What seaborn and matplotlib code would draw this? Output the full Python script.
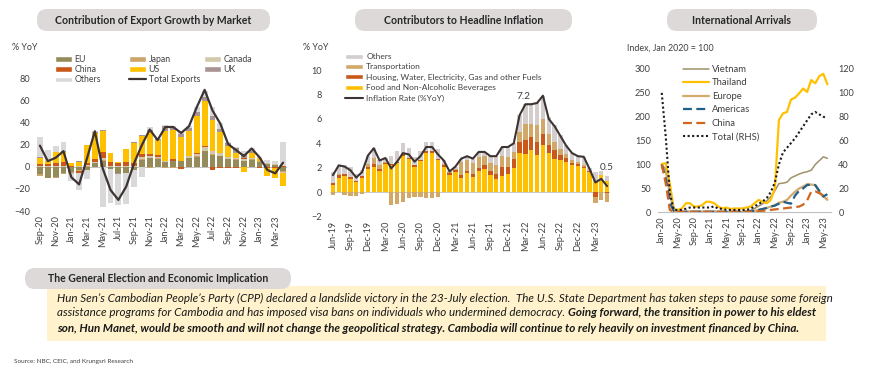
import numpy as np
import pandas as pd
import matplotlib
matplotlib.use("Agg")
import matplotlib.pyplot as plt
import seaborn as sns
from matplotlib.patches import FancyBboxPatch, Rectangle, Patch
from matplotlib.lines import Line2D
from matplotlib.legend import Legend

# ---------------- data: export growth contribution (% YoY) ----------------
export_months = pd.date_range("2020-09-01", "2023-04-01", freq="MS").strftime("%b-%y").tolist()
eu = [-7, -10, -9, -6, -5, -3, -3, 3, 5, -2, -6, -6, -3, 6, 8, 7,
      4, 5, 5, 7.5, 9, 14, 10.5, 9.5, 6.5, 6, 5, 6, 4.5, 2, 1.5, -4]
japan = [-1, -0.5, -1, -1, -1, -0.5, 0.5, 0.5, 1, 0, 0, 0, 0, 0.5, -1.5, 0.5,
         -1, -1, 0.5, 0, 1, 0, 0.5, 0.5, 0.5, 0.5, 0.5, 0.5, 0.5, 0.5, -0.5, -1]
canada = [0.5, 0.5, 0.5, 0.5, -0.5, 1, 1, 1, 2, 1, 0.5, 1, 1, 2, 1.5, 1.5,
          1, 0.5, 0, 2, 1.5, 4, 3, 2.5, 2, 1.5, 1.5, 1, 0.5, 0.5, 0.5, -0.5]
china = [1.5, 1.5, 3, 3.5, 0.5, -2, 2, 2.5, 5, 3, 2.5, 3, 2, 2.5, 2, 1.5,
         0.5, 1.5, -2, 0.5, 0.5, 0.5, -3, -1, -1, -1.5, 1, 0.5, -1.5, -1, -1, 0.5]
us = [6, 3, 9.5, 9, 2.5, 3.5, 16, 23, 19, 8, 1.5, 11.5, 18.5, 17, 21, 14,
      27, 26, 21, 22, 34, 40.5, 28.5, 18.5, 10, 4.5, -5, 4, 2, -7, -8.5, -12]
uk = [0.5, 0, 0.5, 1, 0, 0.5, 0.5, 1.5, 1.5, 0.5, -1, 0.5, 0.5, 0.5, 1, 0.5,
      4, 2, 3, 3, 3, 3.7, 3.5, 3, 2.5, 3.9, 3, 2, 0.5, -0.5, -0.5, 0]
others = [18, 10, 5, 8, -6.5, -15.5, -8, 1, -36, -31, -28, -28, -15, -9.5, 2, -1,
          1.5, 2, 2.5, 1.4, 5, 6, 7.5, 5.5, 0.5, 1, 3, 3, 1, 3, 3, 22]
total_exports = [19, 5, 8, 14, -9.5, -16, 7.5, 32, -1.5, -21, -30, -18, 3, 19.5, 33.5, 24,
                 35.8, 35.8, 30.4, 36.4, 53.7, 69.3, 50.7, 38.8, 20.3, 15, 9.6, 16.4, 8.4, -3, -6, 3.6]

# ---------------- data: headline inflation contributors ----------------
cpi_months = pd.date_range("2019-06-01", "2023-05-01", freq="MS").strftime("%b-%y").tolist()
food = [0.6, 1.2, 1.35, 1.1, 0.85, 1.2, 1.9, 2.1, 1.75, 2.3,
        2.2, 2.4, 3.0, 2.7, 2.1, 2.55, 3.25, 3.2, 2.6, 2.1,
        1.45, 1.65, 1.2, 1.55, 1.25, 1.7, 1.9, 1.4, 1.1, 1.35,
        1.5, 2.0, 3.2, 3.1, 3.45, 3.05, 3.85, 3.2, 2.75, 2.6,
        2.5, 2.2, 2.15, 2.0, 1.65, 0.9, 1.4, 0.9]
housing = [0.15, 0.2, 0.15, 0.15, 0.05, 0.15, 0.2, 0.2, 0.15, 0.1,
           0.1, 0.1, 0.1, 0.1, 0.1, 0.1, 0.1, 0.15, 0.15, 0.1,
           0.15, 0.15, 0.2, 0.2, 0.25, 0.3, 0.3, 0.3, 0.4, 0.75,
           0.55, 0.7, 0.95, 1.15, 1.05, 1.05, 0.95, 0.65, 0.7, 0.45,
           0.3, 0.2, 0.15, 0.1, 0.05, -0.35, 0.05, -0.1]
transport = [-0.2, 0.1, -0.2, -0.3, -0.3, -0.15, 0.2, 0.5, 0.3, 0.1,
             -1.05, -0.95, -0.8, -0.5, -0.4, -0.4, -0.45, -0.45, -0.4, 0.1,
             0.05, 0.1, 1.1, 0.85, 0.9, 0.9, 0.8, 0.7, 0.7, 0.9,
             0.85, 0.6, 0.8, 1.35, 1.1, 1.4, 1.2, 0.95, 0.65, 0.45,
             0.3, 0.2, 0.15, 0.1, 0.05, -0.5, -0.6, -0.7]
others_cpi = [0.9, 0.7, 0.7, 0.85, 0.6, 0.45, 0.7, 0.8, 0.4, 0.3,
              0.7, 0.9, 0.9, 0.8, 0.7, 0.7, 0.8, 0.8, 0.75, 0.3,
              0.05, 0.2, 0.25, 0.35, 0.35, 0.4, 0.3, 0.55, 0.75, 0.7,
              0.8, 0.7, 1.4, 1.6, 1.6, 1.8, 1.9, 1.35, 1.4, 1.2,
              0.75, 0.65, 0.55, 0.7, 0.2, 0.75, 0.25, 0.4]
inflation = [1.4, 2.2, 2.1, 1.8, 1.2, 1.65, 3.0, 3.6, 2.6, 2.8,
             1.95, 2.5, 3.2, 3.1, 2.5, 2.95, 3.7, 3.7, 3.1, 2.6,
             1.7, 2.1, 2.75, 2.95, 2.75, 3.3, 3.3, 2.95, 2.95, 3.7,
             3.7, 4.0, 6.3, 7.2, 7.2, 7.3, 7.9, 6.0, 5.4, 4.6,
             3.8, 3.2, 2.95, 2.9, 1.9, 0.8, 1.1, 0.5]

# ---------------- data: international arrivals (Jan 2020 = 100) ----------------
arr_months = pd.date_range("2020-01-01", "2023-06-01", freq="MS").strftime("%b-%y").tolist()
vietnam = [100, 90, 50, 5, 1, 1, 2, 2, 2, 2, 2, 2, 2, 2, 2, 1, 1, 1, 1, 1,
           1, 2, 4, 8, 13, 18, 24, 33, 45, 60, 61, 63, 72, 76, 80, 83, 85, 88, 100, 108, 116, 113]
thailand = [101, 103, 60, 6, 5, 8, 19, 19, 12, 12, 15, 22, 22, 19, 12, 8, 10, 7, 8, 8,
            8, 10, 12, 19, 26, 22, 19, 26, 50, 193, 207, 210, 236, 240, 249, 259, 252, 277, 270, 285, 290, 268]
europe = [95, 85, 40, 3, 1, 1, 1, 1, 1, 1, 1, 1, 1, 1, 1, 1, 1, 1, 1, 1,
          1, 1, 2, 3, 5, 7, 9, 12, 15, 20, 22, 26, 35, 43, 50, 54, 59, 58, 57, 43, 33, 26]
americas = [100, 70, 20, 2, 1, 1, 1, 1, 1, 1, 1, 1, 1, 1, 1, 1, 1, 1, 1, 1,
            1, 1, 2, 3, 5, 7, 9, 12, 14, 18, 22, 20, 18, 35, 45, 50, 57, 58, 57, 45, 33, 38]
china_arr = [100, 60, 5, 1, 1, 1, 1, 1, 1, 1, 1, 1, 1, 1, 1, 1, 1, 1, 1, 1,
             1, 1, 1, 1, 2, 3, 4, 5, 6, 7, 8, 9, 10, 11, 12, 16, 25, 43, 44, 40, 35, 30]
total_rhs = [100, 63, 16, 2, 2, 2, 3, 4, 4, 4, 4, 4, 4, 5, 3, 3, 2, 2, 2, 2,
             2, 2, 3, 5, 7, 9, 12, 17, 25, 40, 50, 54, 58, 62, 67, 72, 77, 82, 84, 82, 80, 79]

# ---------------- colores ----------------
C_EU, C_JP, C_CA, C_CN = "#958B5A", "#CDA46A", "#D2C9AA", "#C9581A"
C_US, C_UK, C_OTH, C_LINE = "#FFC000", "#A99494", "#D9D9D9", "#3D3333"
C_CPI_OTH, C_TRANS = "#D3CDCD", "#D1A868"
TXT = "#404040"

sns.set_theme(style="white")
plt.rcParams["font.family"] = ["Lato", "DejaVu Sans"]

W, H = 870, 384
fig = plt.figure(figsize=(W / 100, H / 100), dpi=100)


def px(x0, y0, x1, y1):
    # caja en pixeles -> fracciones de figura
    return [x0 / W, 1 - y1 / H, (x1 - x0) / W, (y1 - y0) / H]


bg = fig.add_axes([0, 0, 1, 1], zorder=-5)
bg.set_xlim(0, W)
bg.set_ylim(H, 0)
bg.axis("off")


def pill(x0, y0, x1, y1, text, fs=7.6):
    bg.add_patch(FancyBboxPatch((x0, y0), x1 - x0, y1 - y0,
                                boxstyle="round,pad=0,rounding_size=10",
                                fc="#DDD9D9", ec="none"))
    bg.text((x0 + x1) / 2, (y0 + y1) / 2, text, ha="center", va="center",
            fontsize=fs, fontweight="bold", color="#262626")


def stacked(ax, series, colors, width):
    n = len(series[0])
    x = np.arange(n)
    pos = np.zeros(n)
    neg = np.zeros(n)
    for vals, col in zip(series, colors):
        v = np.asarray(vals, dtype=float)
        base = np.where(v >= 0, pos, neg)
        sns.barplot(x=x, y=v, bottom=base, color=col, width=width, errorbar=None,
                    saturation=1, linewidth=0, ax=ax)
        pos += np.where(v >= 0, v, 0)
        neg += np.where(v < 0, v, 0)


def col_legend(ax, items, x, y, fs, hl, hh, sp):
    # una columna de leyenda, colocada en pixeles de figura
    leg = Legend(ax, [h for h, _ in items], [l for _, l in items], loc="upper left",
                 bbox_to_anchor=(x / W, 1 - y / H), bbox_transform=fig.transFigure,
                 frameon=False, fontsize=fs, handlelength=hl, handleheight=hh,
                 handletextpad=0.35, labelspacing=sp, borderpad=0, borderaxespad=0,
                 labelcolor=TXT)
    ax.add_artist(leg)


def clean(ax):
    for s in ax.spines.values():
        s.set_visible(False)
    ax.set_xlabel("")
    ax.set_ylabel("")


# ---------------- panel 1: exports ----------------
ax1 = fig.add_axes(px(36, 78, 287, 211))
stacked(ax1, [eu, japan, canada, china, us, uk, others],
        [C_EU, C_JP, C_CA, C_CN, C_US, C_UK, C_OTH], 0.75)
ax1.axhline(0, color="#BFBFBF", lw=0.7, zorder=0.5)
sns.lineplot(x=np.arange(len(total_exports)), y=total_exports, color=C_LINE, lw=1.6,
             sort=False, ax=ax1)
ax1.set_ylim(-40, 80)
ax1.set_yticks(range(-40, 81, 20))
ax1.set_xlim(-0.5, len(export_months) - 0.5)
ax1.set_xticks(range(0, len(export_months), 2))
ax1.set_xticklabels(export_months[::2], rotation=90)
ax1.tick_params(length=0, labelsize=6.6, colors=TXT)
ax1.tick_params(axis="y", pad=4)
ax1.tick_params(axis="x", pad=3)
clean(ax1)

col_legend(ax1, [(Patch(fc=C_EU), "EU"), (Patch(fc=C_CN), "China"), (Patch(fc=C_OTH), "Others")],
           55, 55, 6.3, 1.9, 0.55, 0.13)
col_legend(ax1, [(Patch(fc=C_JP), "Japan"), (Patch(fc=C_US), "US"),
                 (Line2D([], [], color=C_LINE, lw=1.6), "Total Exports")],
           129, 55, 6.3, 1.9, 0.55, 0.13)
col_legend(ax1, [(Patch(fc=C_CA), "Canada"), (Patch(fc=C_UK), "UK")],
           204, 55, 6.3, 1.9, 0.55, 0.13)

# ---------------- panel 2: inflation ----------------
ax2 = fig.add_axes(px(330, 70, 610, 216.7))
stacked(ax2, [food, housing, transport, others_cpi],
        [C_US, C_CN, C_TRANS, C_CPI_OTH], 0.75)
ax2.axhline(0, color="#BFBFBF", lw=0.6, zorder=0.5)
sns.lineplot(x=np.arange(len(inflation)), y=inflation, color=C_LINE, lw=1.5,
             sort=False, ax=ax2)
ax2.set_ylim(-2, 10)
ax2.set_yticks(range(-2, 11, 2))
ax2.set_xlim(-0.5, len(cpi_months) - 0.5)
ax2.set_xticks(range(0, len(cpi_months), 3))
ax2.set_xticklabels(cpi_months[::3], rotation=90)
ax2.tick_params(length=0, labelsize=6.6, colors=TXT)
ax2.tick_params(axis="y", pad=6)
ax2.tick_params(axis="x", pad=3)
ax2.text(32.6, 7.85, "7.2", ha="center", va="center", fontsize=7.2, color=TXT)
ax2.text(47.0, 2.05, "0.5", ha="center", va="center", fontsize=7.2, color=TXT, clip_on=False)
clean(ax2)

col_legend(ax2, [(Patch(fc=C_CPI_OTH), "Others"), (Patch(fc=C_TRANS), "Transportation"),
                 (Patch(fc=C_CN), "Housing, Water, Electricity, Gas and other Fuels"),
                 (Patch(fc=C_US), "Food and Non-Alcoholic Beverages"),
                 (Line2D([], [], color=C_LINE, lw=1.5), "Inflation Rate (%YoY)")],
           345, 53, 6.0, 2.2, 0.55, 0.4)

# ---------------- panel 3: arrivals ----------------
ax3 = fig.add_axes(px(657.7, 69, 831.4, 212.3))
xa = np.arange(len(arr_months))
sns.lineplot(x=xa, y=vietnam, color="#9D926A", lw=1.1, ax=ax3)
sns.lineplot(x=xa, y=thailand, color="#FFC000", lw=1.6, ax=ax3)
sns.lineplot(x=xa, y=europe, color="#D3AA6C", lw=1.6, ax=ax3)
sns.lineplot(x=xa, y=americas, color="#1F5F8B", lw=1.6, linestyle=(0, (4, 2)), ax=ax3)
sns.lineplot(x=xa, y=china_arr, color="#D0651F", lw=1.6, linestyle=(0, (4, 2)), ax=ax3)
ax3r = ax3.twinx()
sns.lineplot(x=xa, y=total_rhs, color="#1A1A1A", lw=1.5, linestyle=(0, (1, 1.2)), ax=ax3r)
ax3.set_ylim(0, 300)
ax3.set_yticks(range(0, 301, 50))
ax3r.set_ylim(0, 120)
ax3r.set_yticks(range(0, 121, 20))
ax3.set_xlim(-1, 42)
ax3.set_xticks(range(0, len(arr_months), 4))
ax3.set_xticklabels(arr_months[::4], rotation=90)
for a in (ax3, ax3r):
    clean(a)
    a.tick_params(length=0, labelsize=6.6, colors=TXT, pad=5)
ax3.tick_params(axis="x", pad=3)
ax3.spines["bottom"].set_visible(True)
ax3.spines["bottom"].set_color("#BFBFBF")
ax3.spines["bottom"].set_linewidth(0.8)

col_legend(ax3r, [(Line2D([], [], color="#9D926A", lw=1.1), "Vietnam"),
                  (Line2D([], [], color="#FFC000", lw=1.6), "Thailand"),
                  (Line2D([], [], color="#D3AA6C", lw=1.6), "Europe"),
                  (Line2D([], [], color="#1F5F8B", lw=1.6, ls=(0, (4, 2))), "Americas"),
                  (Line2D([], [], color="#D0651F", lw=1.6, ls=(0, (4, 2))), "China"),
                  (Line2D([], [], color="#1A1A1A", lw=1.5, ls=(0, (1, 1.2))), "Total (RHS)")],
           683, 65, 6.8, 2.7, 0.6, 0.47)

# ---------------- titulos y textos ----------------
pill(37, 9, 270, 31, "Contribution of Export Growth by Market")
pill(355, 9, 572, 31, "Contributors to Headline Inflation")
pill(667, 9, 817, 31, "International Arrivals")

bg.text(12, 48, "% YoY", fontsize=6.4, color=TXT, va="center")
bg.text(303, 48, "% YoY", fontsize=6.4, color=TXT, va="center")
bg.text(627, 48, "Index, Jan 2020 = 100", fontsize=6.4, color=TXT, va="center")

bg.add_patch(Rectangle((47, 286), 779, 55, fc="#FFF2CC", ec="none"))
pill(25, 268, 291, 289, "The General Election and Economic Implication")

fs_p = 8.4
bg.text(57, 298, "Hun Sen\u2019s Cambodian People\u2019s Party (CPP) declared a landslide victory in the 23-July election.  "
        "The U.S. State Department has taken steps to pause some foreign",
        fontsize=fs_p, style="italic", color="#1A1A1A", va="center")
t2 = bg.text(57, 313, "assistance programs for Cambodia and has imposed visa bans on individuals who undermined democracy. ",
             fontsize=fs_p, style="italic", color="#1A1A1A", va="center")
bg.annotate("Going forward, the transition in power to his eldest", xy=(1, 0.5), xycoords=t2,
            fontsize=fs_p, style="italic", fontweight="bold", color="#1A1A1A", va="center", ha="left")
bg.text(57, 328, "son, Hun Manet, would be smooth and will not change the geopolitical strategy. "
        "Cambodia will continue to rely heavily on investment financed by China.",
        fontsize=fs_p, style="italic", fontweight="bold", color="#1A1A1A", va="center")

bg.text(14, 362, "Source: NBC, CEIC, and Krungsri Research", fontsize=4.6, color=TXT, va="center")

fig.savefig("out.png", dpi=100, facecolor="white")
